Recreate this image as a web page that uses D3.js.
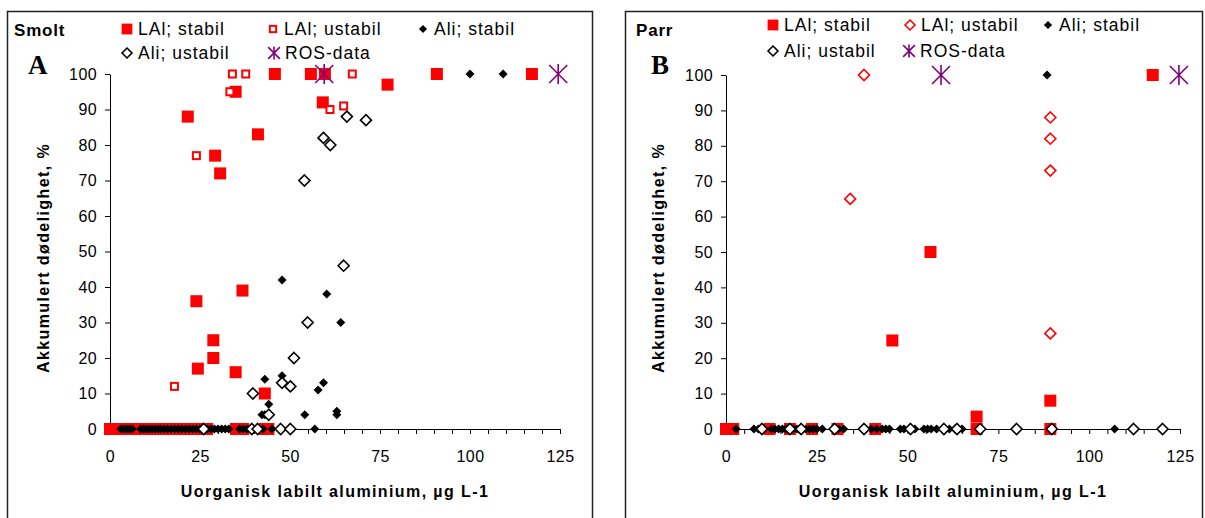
<!DOCTYPE html>
<html>
<head>
<meta charset="utf-8">
<script src="https://cdn.jsdelivr.net/npm/d3@7.9.0/dist/d3.min.js"></script>
<style>
  body { margin: 0; background: #fff; }
  svg text { font-family: "Liberation Sans", Arial, sans-serif; fill: #000; }
</style>
</head>
<body>
<svg id="chart" width="1205" height="518"></svg>
<script>
// --- data: [x (µg/L), y (%)] ---
const seriesLabels = ['LAl; stabil', 'LAl; ustabil', 'Ali; stabil', 'Ali; ustabil', 'ROS-data'];
const xTickLabels = [0, 25, 50, 75, 100, 125];
const yTickLabels = [0, 10, 20, 30, 40, 50, 60, 70, 80, 90, 100];
const xMinorStep = 5;

// A: Smolt
const smoltLAlStabil = [
  [21.6, 88], [29.2, 77], [30.6, 72], [34.9, 95], [45.8, 100], [55.8, 100], [59.7, 100],
  [77.1, 97], [59.1, 92], [41.1, 83], [90.8, 100], [117.2, 100], [36.8, 39], [24, 36],
  [28.7, 25], [28.7, 20], [24.4, 17], [34.9, 16], [43, 10],
  [0, 0], [1.5, 0], [3, 0], [5, 0], [7, 0], [9, 0], [11, 0], [13, 0], [15, 0], [17, 0],
  [19, 0], [21, 0], [23, 0], [25, 0], [27, 0], [35, 0], [37, 0], [43, 0], [44, 0]
];
const smoltLAlUstabil = [
  [34, 100], [37.7, 100], [67.3, 100], [33.3, 95], [61.1, 90], [64.9, 91], [24, 77], [17.9, 12],
  [20, 0], [25.5, 0]
];
const smoltAliStabil = [
  [100, 100], [109.2, 100], [47.8, 42], [60.2, 38], [64.1, 30], [47.8, 15], [43, 14], [44.1, 7],
  [42.2, 4], [43, 4], [59.3, 13], [57.8, 11], [54.1, 4], [63, 5], [63, 4], [56.9, 0],
  [3, 0], [3.8, 0], [4.6, 0], [5.4, 0], [6.2, 0], [8.5, 0], [9.3, 0], [10.1, 0], [10.9, 0],
  [11.7, 0], [12.5, 0], [13.3, 0], [14.1, 0], [15, 0], [16, 0], [17, 0], [18, 0], [19, 0],
  [20, 0], [21, 0], [22, 0], [23, 0], [24, 0], [25, 0], [26, 0], [27, 0], [28, 0], [29, 0],
  [30, 0], [31, 0], [32, 0], [33, 0], [36, 0], [37, 0], [38, 0], [42.5, 0], [45, 0]
];
const smoltAliUstabil = [
  [65.8, 88], [71.1, 87], [59.3, 82], [61.2, 80], [54, 70], [64.9, 46], [54.9, 30], [51.1, 20],
  [47.8, 13], [50.1, 12], [39.7, 10], [44.1, 4],
  [26, 0], [39.4, 0], [41, 0], [47.4, 0], [50.1, 0]
];
const smoltROS = [[59.5, 100], [124.5, 100]];

// B: Parr
const parrLAlStabil = [
  [117.5, 100], [56.3, 50], [45.8, 25], [89.3, 8], [69, 3.5], [69, 0], [89.3, 0],
  [0, 0], [2, 0], [12, 0], [17.6, 0], [23.7, 0], [30.7, 0], [41.1, 0]
];
const parrLAlUstabil = [[38, 100], [34.2, 65], [89.3, 88], [89.3, 82], [89.3, 73], [89.3, 27]];
const parrAliStabil = [
  [88.4, 100],
  [2.8, 0], [7.7, 0], [8.9, 0], [10.5, 0], [12.5, 0], [13.5, 0], [14.5, 0], [15.5, 0], [16.5, 0],
  [18.5, 0], [19.5, 0], [21, 0], [22, 0], [23, 0], [24, 0], [25, 0], [26.5, 0], [30, 0], [31, 0],
  [32.4, 0], [38.5, 0], [40, 0], [41.5, 0], [43, 0], [44, 0], [45, 0], [48, 0], [49, 0],
  [50.5, 0], [52, 0], [54.5, 0], [55.5, 0], [56.5, 0], [58, 0], [61.5, 0], [63, 0], [65, 0], [107, 0]
];
const parrAliUstabil = [
  [9.9, 0], [17.6, 0], [20.7, 0], [29.9, 0], [38, 0], [50.8, 0], [60, 0], [63.6, 0],
  [70, 0], [80, 0], [89.7, 0], [112.2, 0], [120.2, 0]
];
const parrROS = [[59.2, 100], [124.7, 100]];

// --- drawing ---
const svg = d3.select('#chart');
const RED = '#ff0000', PURPLE = '#800080';

function drawMarker(g, type, cx, cy, scale = 1) {
  if (type === 'sqFill') {
    const s = 12 * scale;
    g.append('rect').attr('x', cx - s / 2).attr('y', cy - s / 2).attr('width', s).attr('height', s)
      .attr('fill', RED);
  } else if (type === 'sqOpen') {
    const s = 7 * scale;
    g.append('rect').attr('x', cx - s / 2).attr('y', cy - s / 2).attr('width', s).attr('height', s)
      .attr('fill', '#fff').attr('stroke', RED).attr('stroke-width', 2);
  } else if (type === 'diaFill') {
    const r = 4.5 * scale;
    g.append('path').attr('d', `M${cx},${cy - r}L${cx + r},${cy}L${cx},${cy + r}L${cx - r},${cy}Z`)
      .attr('fill', '#000');
  } else if (type === 'diaOpen' || type === 'diaOpenRed') {
    const r = 5.5 * scale;
    g.append('path').attr('d', `M${cx},${cy - r}L${cx + r},${cy}L${cx},${cy + r}L${cx - r},${cy}Z`)
      .attr('fill', '#fff').attr('stroke', type === 'diaOpen' ? '#000' : RED).attr('stroke-width', 1.6);
  } else if (type === 'star') {
    const r = 10 * scale, d = 9 * scale;
    g.append('path')
      .attr('d', `M${cx},${cy - r}L${cx},${cy + r}M${cx - d},${cy - d}L${cx + d},${cy + d}M${cx - d},${cy + d}L${cx + d},${cy - d}`)
      .attr('stroke', PURPLE).attr('stroke-width', 1.6).attr('fill', 'none');
  }
}

function drawPanel(p) {
  const g = svg.append('g');
  g.append('rect').attr('x', p.frame[0]).attr('y', p.frame[1]).attr('width', p.frame[2]).attr('height', p.frame[3])
    .attr('fill', '#fff').attr('stroke', '#222').attr('stroke-width', 1.5);

  const x = d3.scaleLinear().domain([0, 125]).range(p.xRange);
  const y = d3.scaleLinear().domain([0, 100]).range(p.yRange);

  const minor = d3.range(0, 125 + 0.1, xMinorStep);
  const xAxis = d3.axisBottom(x).tickValues(minor).tickSize(5).tickSizeOuter(0).tickPadding(17)
    .tickFormat(d => xTickLabels.includes(d) ? d : '');
  const gx = g.append('g').attr('transform', `translate(0,${y(0)})`).call(xAxis);
  const yAxis = d3.axisLeft(y).tickValues(yTickLabels).tickSize(5).tickSizeOuter(0).tickPadding(8);
  const gy = g.append('g').attr('transform', `translate(${x(0)},0)`).call(yAxis);
  [gx, gy].forEach(a => {
    a.selectAll('path, line').attr('stroke', '#000');
    a.selectAll('text').attr('font-size', 16).attr('font-family', '"Liberation Sans", Arial, sans-serif')
      .attr('fill', '#000').style('letter-spacing', '0.4px');
  });

  // points, in the series order so later series sit on top
  const pts = g.append('g');
  p.series.forEach(s => s.data.forEach(([dx, dy]) => drawMarker(pts, s.type, x(dx), y(dy))));

  // titles
  g.append('text').attr('x', p.nameX).attr('y', 36).attr('font-weight', 'bold').attr('font-size', 17)
    .style('letter-spacing', '0.8px').text(p.name);
  g.append('text').attr('x', p.letterX).attr('y', 74).attr('font-weight', 'bold').attr('font-size', 27)
    .style('font-family', '"Liberation Serif", "Times New Roman", serif').text(p.letter);
  g.append('text').attr('x', (p.xRange[0] + p.xRange[1]) / 2).attr('y', 497).attr('text-anchor', 'middle')
    .attr('font-weight', 'bold').attr('font-size', 16).style('letter-spacing', '1.4px').text(p.xTitle);
  g.append('text').attr('transform', `translate(${p.yTitleX},258) rotate(-90)`).attr('text-anchor', 'middle')
    .attr('font-weight', 'bold').attr('font-size', 16).style('letter-spacing', '1.4px').text(p.yTitle);

  // legend
  const lg = g.append('g');
  p.series.forEach((s, i) => {
    const [lx, ly] = p.legendPos[i];
    drawMarker(lg, s.type, lx, ly, s.type === 'star' ? 0.65 : 0.9);
    lg.append('text').attr('x', lx + 11).attr('y', ly + 6.3).attr('font-size', 17.5)
      .style('letter-spacing', '1px').text(seriesLabels[i]);
  });
}

const xTitle = 'Uorganisk labilt aluminium, µg L-1';
const yTitle = 'Akkumulert dødelighet, %';

drawPanel({
  name: 'Smolt', nameX: 14, letter: 'A', letterX: 28, frame: [7.5, 11.5, 585, 520],
  xRange: [110, 560], yRange: [429, 74], yTitleX: 49, xTitle, yTitle,
  legendPos: [[127, 29], [273, 29], [423, 29], [127, 53], [274, 53]],
  series: [
    { type: 'sqFill', data: smoltLAlStabil },
    { type: 'sqOpen', data: smoltLAlUstabil },
    { type: 'diaFill', data: smoltAliStabil },
    { type: 'diaOpen', data: smoltAliUstabil },
    { type: 'star', data: smoltROS }
  ]
});

drawPanel({
  name: 'Parr', nameX: 636, letter: 'B', letterX: 651, frame: [625.5, 11.5, 577, 520],
  xRange: [726, 1180], yRange: [429, 75], yTitleX: 664, xTitle, yTitle,
  legendPos: [[773, 25], [910, 25], [1048, 25], [773, 51], [909, 51]],
  series: [
    { type: 'sqFill', data: parrLAlStabil },
    { type: 'diaOpenRed', data: parrLAlUstabil },
    { type: 'diaFill', data: parrAliStabil },
    { type: 'diaOpen', data: parrAliUstabil },
    { type: 'star', data: parrROS }
  ]
});
</script>
</body>
</html>
